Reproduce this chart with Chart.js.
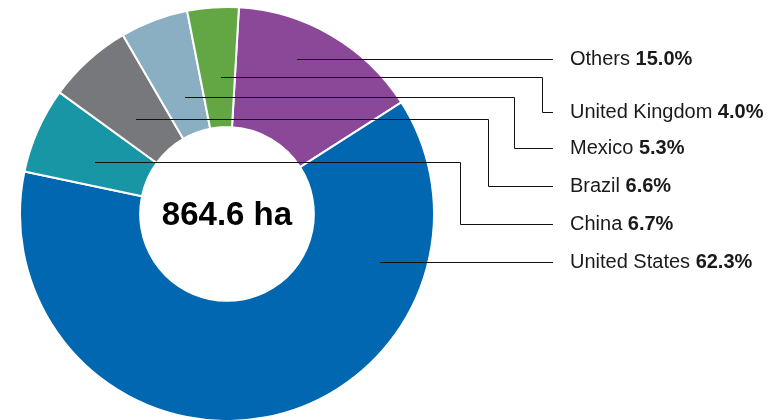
<!DOCTYPE html>
<html>
<head>
<meta charset="utf-8">
<script src="https://cdn.jsdelivr.net/npm/chart.js@4"></script>
<style>
  html, body { margin: 0; padding: 0; background: #fff; }
  #wrap { width: 769px; height: 420px; position: relative; }
</style>
</head>
<body>
<div id="wrap"><canvas id="myChart" width="769" height="420"></canvas></div>
<script>
// data
const countries = ['Others', 'United States', 'China', 'Brazil', 'Mexico', 'United Kingdom'];
const shares = [15.0, 62.3, 6.7, 6.6, 5.3, 4.0];
const colors = ['#8B4899', '#0067B0', '#1896A6', '#77787B', '#8AAFC3', '#62A744'];
const totalLabel = '864.6 ha';

// leader line layout, offsets from the doughnut centre (px)
const leaders = {
  'Others':         { lineY: -155.5, startX: 70,   elbowX: null, labelY: 58.5 },
  'United Kingdom': { lineY: -137.5, startX: -6,   elbowX: 542,  labelY: 111.5 },
  'Mexico':         { lineY: -117.5, startX: -42,  elbowX: 514,  labelY: 147.5 },
  'Brazil':         { lineY: -95.5,  startX: -91,  elbowX: 488,  labelY: 185.5 },
  'China':          { lineY: -52.5,  startX: -132, elbowX: 460,  labelY: 223.5 },
  'United States':  { lineY: 47.5,   startX: 153,  elbowX: null, labelY: 261.5 }
};
const lineEndX = 553;
const labelX = 570;
const labelFont = '20px "Liberation Sans", Arial, sans-serif';
const labelBold = 'bold 20px "Liberation Sans", Arial, sans-serif';

const leaderPlugin = {
  id: 'leaders',
  afterDatasetsDraw(chart) {
    const ctx = chart.ctx;
    const arc = chart.getDatasetMeta(0).data[0];
    const cx = arc.x, cy = arc.y;
    ctx.save();
    ctx.strokeStyle = '#111';
    ctx.lineWidth = 1;
    countries.forEach(function(name, i) {
      const l = leaders[name];
      const y0 = Math.round(cy + l.lineY) + 0.5;
      const x0 = cx + l.startX;
      const y1 = Math.round(l.labelY) + 0.5;
      ctx.beginPath();
      ctx.moveTo(x0, y0);
      if (l.elbowX !== null) {
        ctx.lineTo(l.elbowX + 0.5, y0);
        ctx.lineTo(l.elbowX + 0.5, y1);
        ctx.lineTo(lineEndX, y1);
      } else {
        ctx.lineTo(lineEndX, y0);
      }
      ctx.stroke();

      // label text
      ctx.fillStyle = '#1a1a1a';
      ctx.textBaseline = 'middle';
      ctx.textAlign = 'left';
      ctx.font = labelFont;
      const txt = name + ' ';
      ctx.fillText(txt, labelX, l.labelY + 1);
      const w = ctx.measureText(txt).width;
      ctx.font = labelBold;
      ctx.fillText(shares[i].toFixed(1) + '%', labelX + w, l.labelY + 1);
    });

    // centre total
    ctx.font = 'bold 33px "Liberation Sans", Arial, sans-serif';
    ctx.fillStyle = '#000';
    ctx.textAlign = 'center';
    ctx.textBaseline = 'alphabetic';
    ctx.fillText(totalLabel, cx, cy + 11);
    ctx.restore();
  }
};

let ctx = document.getElementById('myChart').getContext('2d');
let chart = new Chart(ctx, {
  type: 'doughnut',
  data: {
    labels: countries,
    datasets: [{
      data: shares,
      backgroundColor: colors,
      borderColor: '#ffffff',
      borderWidth: 2
    }]
  },
  options: {
    responsive: false,
    animation: false,
    rotation: 3.3,
    radius: 207,
    cutout: 86,
    layout: { padding: { left: 20, right: 335, top: 8, bottom: 0 } },
    plugins: {
      legend: { display: false },
      tooltip: { enabled: false }
    }
  },
  plugins: [leaderPlugin]
});
</script>
</body>
</html>
